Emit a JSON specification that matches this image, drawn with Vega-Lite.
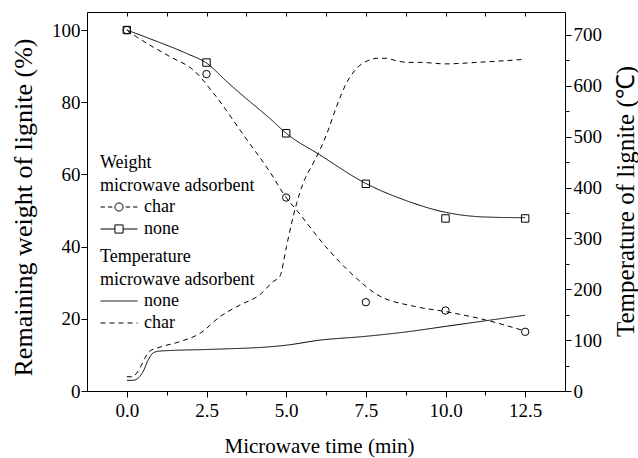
{
  "$schema": "https://vega.github.io/schema/vega-lite/v6.json",
  "width": 478,
  "height": 379,
  "autosize": {"type": "none"},
  "padding": {"left": 87, "top": 12, "right": 73, "bottom": 67},
  "background": "white",
  "config": {
    "font": "Times New Roman",
    "view": {"stroke": null},
    "style": {
      "guide-label": {"font": "Times New Roman"},
      "guide-title": {"font": "Times New Roman"}
    },
    "axis": {
      "domainColor": "black", "tickColor": "black", "labelColor": "black", "titleColor": "black",
      "labelFont": "Times New Roman", "titleFont": "Times New Roman", "labelFontSize": 19,
      "titleFontWeight": "normal", "grid": false, "domainWidth": 1, "tickWidth": 1,
      "labelOverlap": false, "labelFlush": false
    },
    "legend": {
      "titleFont": "Times New Roman", "titleFontSize": 18, "titleFontWeight": "normal", "titleColor": "black",
      "titleLineHeight": 23, "labelFont": "Times New Roman", "labelFontSize": 18, "labelColor": "black",
      "labelLimit": 300, "titleLimit": 400, "padding": 0, "rowPadding": 0, "clipHeight": 22,
      "symbolSize": 1369, "symbolStrokeWidth": 1, "labelOffset": 6, "titlePadding": 1
    }
  },
  "datasets": {
    "weightPts": [
      {"time": 0, "weight": 100, "adsorbent": "none"},
      {"time": 2.5, "weight": 91, "adsorbent": "none"},
      {"time": 5, "weight": 71.4, "adsorbent": "none"},
      {"time": 7.5, "weight": 57.4, "adsorbent": "none"},
      {"time": 10, "weight": 47.8, "adsorbent": "none"},
      {"time": 12.5, "weight": 47.8, "adsorbent": "none"},
      {"time": 0, "weight": 100, "adsorbent": "char"},
      {"time": 2.5, "weight": 87.8, "adsorbent": "char"},
      {"time": 5, "weight": 53.6, "adsorbent": "char"},
      {"time": 7.5, "weight": 24.6, "adsorbent": "char"},
      {"time": 10, "weight": 22.3, "adsorbent": "char"},
      {"time": 12.5, "weight": 16.4, "adsorbent": "char"}
    ],
    "weightFit": [
      {"time": 0, "weight": 100, "adsorbent": "none"},
      {"time": 0.84, "weight": 97.2, "adsorbent": "none"},
      {"time": 1.88, "weight": 93.5, "adsorbent": "none"},
      {"time": 2.51, "weight": 90.8, "adsorbent": "none"},
      {"time": 3.14, "weight": 85.7, "adsorbent": "none"},
      {"time": 3.75, "weight": 81, "adsorbent": "none"},
      {"time": 4.49, "weight": 75.5, "adsorbent": "none"},
      {"time": 5, "weight": 71.4, "adsorbent": "none"},
      {"time": 6.06, "weight": 65.4, "adsorbent": "none"},
      {"time": 7.5, "weight": 57.5, "adsorbent": "none"},
      {"time": 8.75, "weight": 52.8, "adsorbent": "none"},
      {"time": 10, "weight": 49.5, "adsorbent": "none"},
      {"time": 11.25, "weight": 48.2, "adsorbent": "none"},
      {"time": 12.5, "weight": 48, "adsorbent": "none"},
      {"time": 0, "weight": 100, "adsorbent": "char"},
      {"time": 0.31, "weight": 98.1, "adsorbent": "char"},
      {"time": 1.36, "weight": 92.6, "adsorbent": "char"},
      {"time": 2.09, "weight": 88.9, "adsorbent": "char"},
      {"time": 2.72, "weight": 82.5, "adsorbent": "char"},
      {"time": 3.75, "weight": 69.8, "adsorbent": "char"},
      {"time": 4.49, "weight": 60.7, "adsorbent": "char"},
      {"time": 5, "weight": 53.6, "adsorbent": "char"},
      {"time": 5.33, "weight": 50.1, "adsorbent": "char"},
      {"time": 6.24, "weight": 40, "adsorbent": "char"},
      {"time": 7.21, "weight": 31.2, "adsorbent": "char"},
      {"time": 7.8, "weight": 27, "adsorbent": "char"},
      {"time": 9.05, "weight": 23.4, "adsorbent": "char"},
      {"time": 10, "weight": 22, "adsorbent": "char"},
      {"time": 11.25, "weight": 19.7, "adsorbent": "char"},
      {"time": 12.5, "weight": 16.6, "adsorbent": "char"}
    ],
    "temp": [
      {"time": 0, "temp": 21, "adsorbent": "none"},
      {"time": 0.2, "temp": 21, "adsorbent": "none"},
      {"time": 0.51, "temp": 38, "adsorbent": "none"},
      {"time": 0.67, "temp": 61, "adsorbent": "none"},
      {"time": 0.83, "temp": 75, "adsorbent": "none"},
      {"time": 1.03, "temp": 78.5, "adsorbent": "none"},
      {"time": 2.71, "temp": 82, "adsorbent": "none"},
      {"time": 4.5, "temp": 87, "adsorbent": "none"},
      {"time": 5, "temp": 90, "adsorbent": "none"},
      {"time": 6, "temp": 99.5, "adsorbent": "none"},
      {"time": 7.5, "temp": 107.5, "adsorbent": "none"},
      {"time": 8.75, "temp": 116, "adsorbent": "none"},
      {"time": 10, "temp": 127, "adsorbent": "none"},
      {"time": 11.25, "temp": 138, "adsorbent": "none"},
      {"time": 12.5, "temp": 149, "adsorbent": "none"},
      {"time": 0, "temp": 28, "adsorbent": "char"},
      {"time": 0.16, "temp": 28, "adsorbent": "char"},
      {"time": 0.41, "temp": 45, "adsorbent": "char"},
      {"time": 0.56, "temp": 64, "adsorbent": "char"},
      {"time": 0.72, "temp": 78.5, "adsorbent": "char"},
      {"time": 0.93, "temp": 84, "adsorbent": "char"},
      {"time": 1.66, "temp": 97, "adsorbent": "char"},
      {"time": 2.29, "temp": 113, "adsorbent": "char"},
      {"time": 2.92, "temp": 146, "adsorbent": "char"},
      {"time": 3.55, "temp": 169, "adsorbent": "char"},
      {"time": 4.17, "temp": 189, "adsorbent": "char"},
      {"time": 4.59, "temp": 215, "adsorbent": "char"},
      {"time": 4.8, "temp": 225, "adsorbent": "char"},
      {"time": 5.01, "temp": 284, "adsorbent": "char"},
      {"time": 5.17, "temp": 330, "adsorbent": "char"},
      {"time": 5.33, "temp": 369, "adsorbent": "char"},
      {"time": 5.53, "temp": 408, "adsorbent": "char"},
      {"time": 5.85, "temp": 448, "adsorbent": "char"},
      {"time": 6.06, "temp": 474, "adsorbent": "char"},
      {"time": 6.32, "temp": 513, "adsorbent": "char"},
      {"time": 6.58, "temp": 559, "adsorbent": "char"},
      {"time": 6.89, "temp": 605, "adsorbent": "char"},
      {"time": 7.21, "temp": 634, "adsorbent": "char"},
      {"time": 7.63, "temp": 651, "adsorbent": "char"},
      {"time": 7.84, "temp": 654, "adsorbent": "char"},
      {"time": 8.15, "temp": 654, "adsorbent": "char"},
      {"time": 8.46, "temp": 649, "adsorbent": "char"},
      {"time": 8.78, "temp": 646, "adsorbent": "char"},
      {"time": 9.19, "temp": 646, "adsorbent": "char"},
      {"time": 10, "temp": 643, "adsorbent": "char"},
      {"time": 11, "temp": 646, "adsorbent": "char"},
      {"time": 12.5, "temp": 652, "adsorbent": "char"}
    ]
  },
  "layer": [
    {
      "layer": [
        {
          "data": {"name": "weightFit"},
          "mark": {"type": "line", "interpolate": "monotone", "color": "black", "strokeWidth": 1},
          "encoding": {
            "x": {
              "field": "time", "type": "quantitative",
              "scale": {"domain": [-1.25, 13.75], "nice": false, "zero": false},
              "axis": {
                "orient": "bottom",
                "values": [0, 1.25, 2.5, 3.75, 5, 6.25, 7.5, 8.75, 10, 11.25, 12.5],
                "labelExpr": "datum.value % 2.5 === 0 ? format(datum.value, '.1f') : ''",
                "tickSize": {"condition": {"test": "datum.value % 2.5 === 0", "value": 6}, "value": 4},
                "labelPadding": 4,
                "labelFont": "Times New Roman", "labelFontSize": 19,
                "title": "Microwave time (min)",
                "titleFont": "Times New Roman", "titleFontSize": 21,
                "titleX": 232, "titleY": 61,
                "titleAlign": "center", "titleBaseline": "alphabetic"
              }
            },
            "y": {
              "field": "weight", "type": "quantitative",
              "scale": {"domain": [0, 105], "nice": false},
              "axis": {
                "orient": "left",
                "values": [0, 10, 20, 30, 40, 50, 60, 70, 80, 90, 100],
                "labelExpr": "datum.value % 20 === 0 ? datum.label : ''",
                "tickSize": {"condition": {"test": "datum.value % 20 === 0", "value": 6}, "value": 4},
                "labelPadding": 1,
                "labelFont": "Times New Roman", "labelFontSize": 19,
                "title": "Remaining weight of lignite (%)",
                "titleFont": "Times New Roman", "titleFontSize": 26,
                "titleX": -64, "titleY": 195,
                "titleAngle": 270, "titleAlign": "center", "titleBaseline": "middle"
              }
            },
            "strokeDash": {
              "field": "adsorbent", "type": "nominal",
              "scale": {"domain": ["none", "char"], "range": [[1, 0], [5, 4]]},
              "legend": null
            }
          }
        },
        {
          "data": {"name": "weightPts"},
          "mark": {"type": "point", "filled": false, "color": "black", "size": 55, "strokeWidth": 1},
          "encoding": {
            "x": {"field": "time", "type": "quantitative"},
            "y": {"field": "weight", "type": "quantitative"},
            "shape": {
              "field": "adsorbent", "type": "nominal",
              "scale": {"domain": ["none", "char"], "range": ["square", "circle"]},
              "legend": null
            },
            "opacity": {
              "field": "adsorbent", "type": "ordinal",
              "scale": {"domain": ["char", "none"], "range": [1, 1]},
              "legend": {
                "title": ["Weight", "microwave adsorbent"],
                "orient": "none", "legendX": 13, "legendY": 142,
                "symbolType": {"expr": "datum.value === 'char' ? 'M-1,0L-0.76,0M-0.6,0L-0.36,0M0.36,0L0.6,0M0.76,0L1,0M0.22,0A0.22,0.22,0,1,1,-0.22,0A0.22,0.22,0,1,1,0.22,0Z' : 'M-1,0L-0.22,0M0.22,0L1,0M-0.22,-0.22L0.22,-0.22L0.22,0.22L-0.22,0.22Z'"},
                "symbolStrokeColor": "black",
                "symbolFillColor": "transparent",
                "symbolStrokeWidth": 1
              }
            }
          }
        }
      ]
    },
    {
      "data": {"name": "temp"},
      "mark": {"type": "line", "interpolate": "monotone", "color": "black", "strokeWidth": 1},
      "encoding": {
        "x": {
          "field": "time", "type": "quantitative",
          "axis": {
            "orient": "top",
            "values": [0, 1.25, 2.5, 3.75, 5, 6.25, 7.5, 8.75, 10, 11.25, 12.5],
            "labels": false, "title": null,
            "tickSize": -4
          }
        },
        "y": {
          "field": "temp", "type": "quantitative",
          "scale": {"domain": [0, 745], "nice": false},
          "axis": {
            "orient": "right",
            "values": [0, 50, 100, 150, 200, 250, 300, 350, 400, 450, 500, 550, 600, 650, 700],
            "labelExpr": "datum.value % 100 === 0 ? datum.label : ''",
            "tickSize": {"condition": {"test": "datum.value % 100 === 0", "value": 6}, "value": 4},
            "labelPadding": 2,
            "labelFont": "Times New Roman", "labelFontSize": 19,
            "title": "Temperature of lignite (℃)",
            "titleFont": "Times New Roman", "titleFontSize": 25,
            "titleX": 60, "titleY": 189,
            "titleAngle": 270, "titleAlign": "center", "titleBaseline": "middle"
          }
        },
        "strokeDash": {
          "field": "adsorbent", "type": "nominal",
          "scale": {"domain": ["none", "char"], "range": [[1, 0], [5, 4]]},
          "legend": {
            "title": ["Temperature", "microwave adsorbent"],
            "orient": "none", "legendX": 13, "legendY": 236,
            "symbolStrokeColor": "black"
          }
        }
      }
    }
  ],
  "resolve": {
    "scale": {"y": "independent", "strokeDash": "independent"},
    "axis": {"x": "independent", "y": "independent"},
    "legend": {"strokeDash": "independent"}
  }
}
